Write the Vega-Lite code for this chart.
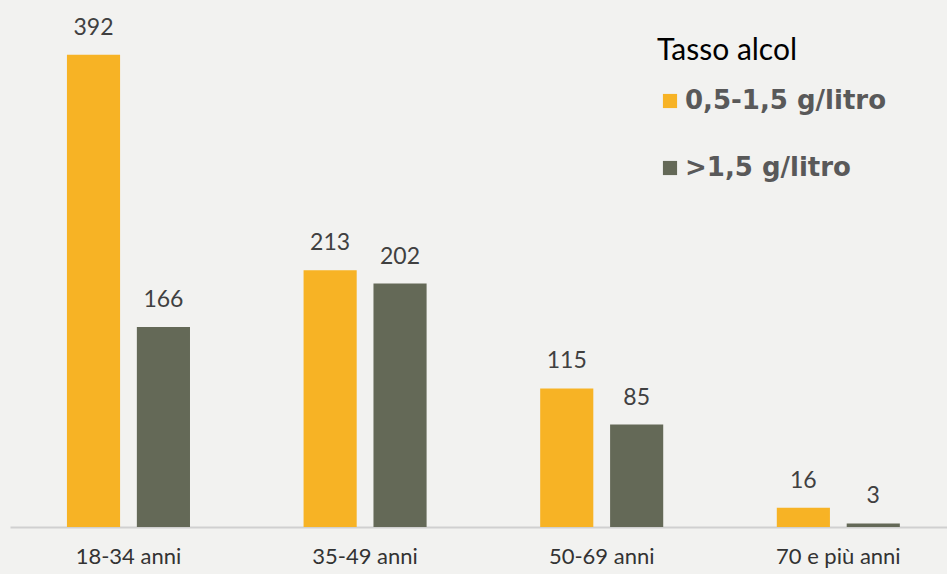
{
  "$schema": "https://vega.github.io/schema/vega-lite/v6.json",
  "width": 937,
  "height": 482,
  "autosize": {"type": "none"},
  "padding": {"left": 10, "top": 45, "right": 0, "bottom": 47},
  "background": "#F2F2F0",
  "config": {"view": {"stroke": null}},
  "data": {
    "values": [
      {"age": "18-34 anni", "serie": "0,5-1,5 g/litro", "value": 392},
      {"age": "18-34 anni", "serie": ">1,5 g/litro", "value": 166},
      {"age": "35-49 anni", "serie": "0,5-1,5 g/litro", "value": 213},
      {"age": "35-49 anni", "serie": ">1,5 g/litro", "value": 202},
      {"age": "50-69 anni", "serie": "0,5-1,5 g/litro", "value": 115},
      {"age": "50-69 anni", "serie": ">1,5 g/litro", "value": 85},
      {"age": "70 e più anni", "serie": "0,5-1,5 g/litro", "value": 16},
      {"age": "70 e più anni", "serie": ">1,5 g/litro", "value": 3}
    ]
  },
  "encoding": {
    "x": {
      "field": "age", "type": "nominal", "sort": null,
      "scale": {"paddingInner": 0.48, "paddingOuter": 0.22, "align": 0.547},
      "axis": {
        "title": null, "labelAngle": 0, "ticks": false,
        "domainColor": "#D0D0D0", "domainWidth": 2,
        "labelFont": "Lato", "labelFontSize": 22, "labelColor": "#333333",
        "labelPadding": 19
      }
    },
    "xOffset": {
      "field": "serie", "type": "nominal", "sort": null,
      "scale": {"paddingInner": 0.24, "paddingOuter": 0}
    },
    "y": {
      "field": "value", "type": "quantitative",
      "scale": {"domain": [0, 400], "nice": false},
      "axis": null
    }
  },
  "layer": [
    {
      "mark": {"type": "bar"},
      "encoding": {
        "color": {
          "field": "serie", "type": "nominal", "sort": null,
          "scale": {"domain": ["0,5-1,5 g/litro", ">1,5 g/litro"], "range": ["#F7B325", "#646957"]},
          "legend": {
            "title": "Tasso alcol",
            "orient": "none",
            "legendX": 647,
            "legendY": -9,
            "titleFont": "Lato", "titleFontSize": 30, "titleFontWeight": "normal", "titleColor": "#000000",
            "titlePadding": 22,
            "labelFont": "DejaVu Sans", "labelFontSize": 26, "labelFontWeight": "bold", "labelColor": "#595959",
            "labelLimit": 400,
            "symbolType": "square", "symbolSize": 200, "symbolStrokeWidth": 0,
            "labelOffset": 2, "rowPadding": 41
          }
        }
      }
    },
    {
      "mark": {"type": "text", "baseline": "alphabetic", "dy": -20, "font": "Lato", "fontSize": 23, "color": "#404040"},
      "encoding": {
        "text": {"field": "value", "type": "quantitative"}
      }
    }
  ]
}
